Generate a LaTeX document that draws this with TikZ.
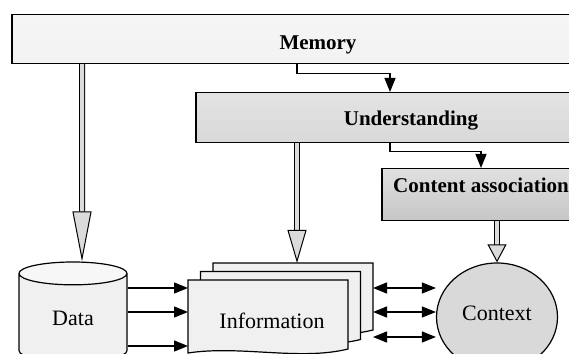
\documentclass[tikz,border=0pt]{standalone}
\usepackage{fontspec}
\setmainfont{Liberation Serif}
\usetikzlibrary{arrows.meta,shapes.geometric,positioning}

\tikzset{
  layer/.style={draw, line width=1.2pt, inner sep=0pt, anchor=north,
    font=\fontsize{21}{24}\selectfont\bfseries},
  store/.style={draw, line width=1.2pt, inner sep=0pt,
    font=\fontsize{22}{26}\selectfont},
  sheet/.style={draw, line width=1.2pt, fill=gray!12},
  tip/.style={line width=1.3pt, -{Triangle[width=11pt,length=14pt]}},
  twotip/.style={line width=1.3pt,
    {Triangle[width=11pt,length=14pt]}-{Triangle[width=11pt,length=14pt]}},
  hollow/.style={line width=1pt, double=gray!28, double distance=4pt,
    -{Triangle[width=19pt,length=#1,fill=gray!28,line width=1pt]}}
}

\begin{document}
\begin{tikzpicture}[x=1pt,y=1pt]
\useasboundingbox (0,0) rectangle (569,353);
\clip (0,0) rectangle (569,353);

% the three layers, each one starts lower and further right
\node[layer, minimum width=612pt, text height=35pt, text depth=14pt,
  top color=gray!8, middle color=white, bottom color=gray!10] (mem) at (318,339) {Memory};
\node[layer, minimum width=430pt, text height=33pt, text depth=17pt,
  top color=gray!22, middle color=gray!14, bottom color=gray!30] (und) at (411,261) {Understanding};
\node[layer, minimum width=198pt, text height=24pt, text depth=28pt,
  top color=gray!24, bottom color=gray!45] (cass) at (481,185) {Content association};

% stores at the bottom
\node[store, cylinder, shape border rotate=90, aspect=0.55,
  minimum width=108pt, minimum height=100pt,
  cylinder uses custom fill, cylinder body fill=gray!12, cylinder end fill=gray!6] (data) at (73,35) {Data};

\foreach \k in {2,1,0}
  \draw[sheet] ({188+12.5*\k},{73+8.5*\k}) -- ({348+12.5*\k},{73+8.5*\k})
    -- ({348+12.5*\k},{4+9.5*\k})
    .. controls ({300+12.5*\k},{-8+9.5*\k}) and ({240+12.5*\k},{8+9.5*\k}) .. ({188+12.5*\k},{0+9.5*\k}) -- cycle;
\node[font=\fontsize{22}{26}\selectfont, anchor=base] (info) at (272,25) {Information};
\coordinate (infoW) at (188,73);
\coordinate (infoE) at (373,90);
\coordinate (infoN) at (297,90);

\node[store, ellipse, fill=gray!30, minimum width=121pt, minimum height=108pt,
  text height=14pt, text depth=8pt] (ctx) at (497,36) {Context};

% flow between the layers
\draw[tip] ([xshift=-21pt]mem.south) -- ++(0,-9) -| ([xshift=-21pt]und.north);
\draw[tip] ([xshift=-21pt]und.south) -- ++(0,-8) -| (cass.north);

\draw[hollow=50pt] (mem.south -| 82,0) -- ([xshift=9pt]data.north);
\draw[hollow=33pt] (und.south -| infoN) -- (infoN);
\draw[hollow=18pt] (cass.south -| ctx.north) -- (ctx.north);

\foreach \y in {65,41,7}
  \draw[tip] (data.east |- 0,\y) -- (infoW |- 0,\y);
\foreach \y in {65,41,16}
  \draw[twotip] (infoE |- 0,\y) -- (ctx.west |- 0,\y);
\end{tikzpicture}
\end{document}
